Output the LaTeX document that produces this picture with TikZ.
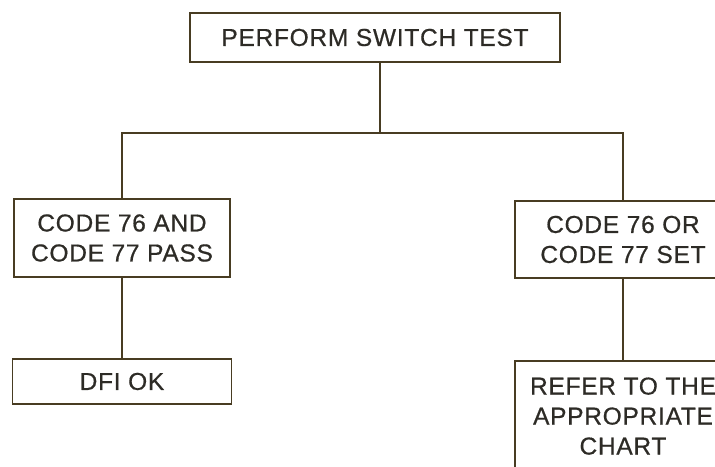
\documentclass[tikz,border=0pt]{standalone}
\usepackage{fontspec}
\setmainfont{Liberation Sans}[LetterSpace=3,FakeBold=0.6]
\definecolor{linec}{RGB}{72,60,34}
\definecolor{textc}{RGB}{45,43,38}
\begin{document}
\begin{tikzpicture}[x=1pt,y=-1pt,
  box/.style={draw=linec,line width=1.8pt,fill=white,inner sep=0pt,align=center,
    font=\fontsize{24.5}{30}\selectfont,text=textc},
  conn/.style={draw=linec,line width=1.8pt}]
\useasboundingbox (0,0) rectangle (715,466);
\clip (0,0) rectangle (715,466);
\node[box,minimum width=370,minimum height=49] (top) at (375,37.5) {PERFORM SWITCH TEST};
\node[box,minimum width=216,minimum height=78] (a) at (122,238) {CODE 76 AND\\CODE 77 PASS};
\node[box,minimum width=219,minimum height=45] (d) at (122,381.5) {DFI OK};
\node[box,minimum width=216,minimum height=77] (b) at (623,239.5) {CODE 76 OR\\CODE 77 SET};
\node[box,minimum width=216,minimum height=110,text depth=0pt] (c) at (623,416) {REFER TO THE\\APPROPRIATE\\CHART};
\coordinate (j) at (380,133);
\draw[conn] (top.south -| j) -- (j);
\draw[conn] (j) -| (a.north);
\draw[conn] (j) -| (b.north);
\draw[conn] (a.south) -- (d.north);
\draw[conn] (b.south) -- (c.north);
\end{tikzpicture}
\end{document}
